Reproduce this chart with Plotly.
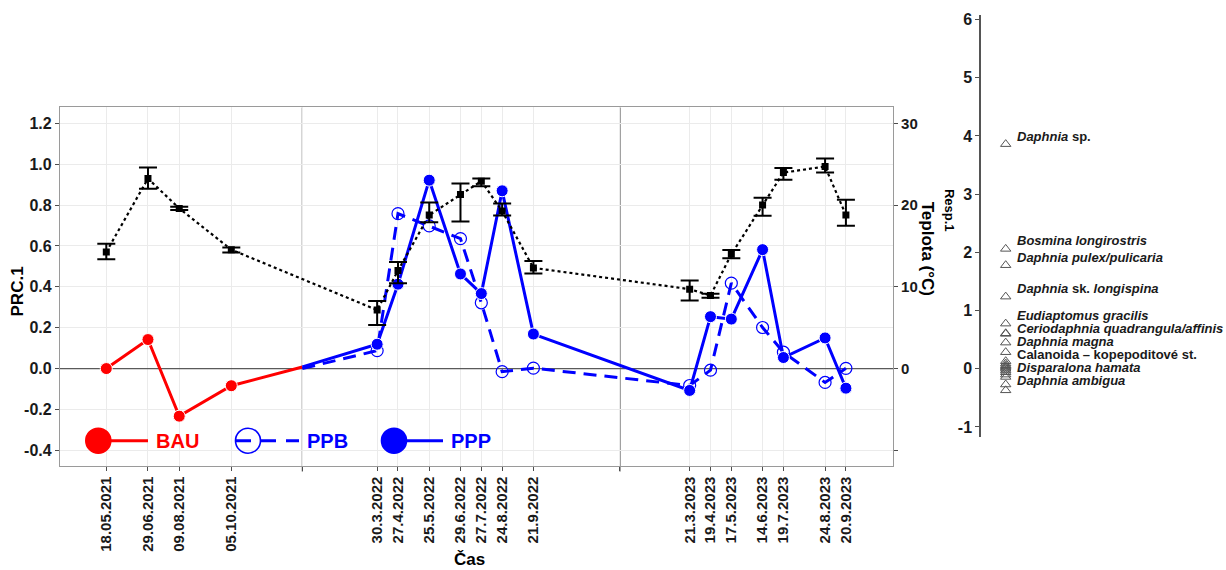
import plotly.graph_objects as go

W, H = 1226, 570
FONT = "Liberation Sans, Arial, sans-serif"

# ---- sampling dates and their positions on the time axis ----
dates_2021 = ["18.05.2021", "29.06.2021", "09.08.2021", "05.10.2021"]
dates_2022 = ["30.3.2022", "27.4.2022", "25.5.2022", "29.6.2022",
              "27.7.2022", "24.8.2022", "21.9.2022"]
dates_2023 = ["21.3.2023", "19.4.2023", "17.5.2023", "14.6.2023",
              "19.7.2023", "24.8.2023", "20.9.2023"]
t_2021 = [0, 4, 7, 12]
t_2022 = [26, 28, 31, 34, 36, 38, 41]
t_2023 = [56, 58, 60, 63, 65, 69, 71]
season_breaks = [18.82, 49.31]

# ---- PRC.1 scores per treatment ----
bau_2021 = [0.0, 0.142, -0.233, -0.084]
bau_end = 0.008
ppb_start = 0.0
ppb_2022 = [0.088, 0.758, 0.698, 0.636, 0.322, -0.015, 0.002]
ppb_2023 = [-0.083, -0.008, 0.418, 0.201, 0.080, -0.068, 0.001]
ppp_start = 0.008
ppp_2022 = [0.119, 0.413, 0.922, 0.463, 0.367, 0.870, 0.169]
ppp_2023 = [-0.107, 0.254, 0.242, 0.582, 0.054, 0.150, -0.096]

# ---- water temperature (mean with upper / lower bounds) ----
temp_mean = [14.27, 23.25, 19.60, 14.55,
             7.16, 11.99, 18.78, 21.30, 22.93, 19.27, 12.32,
             9.72, 8.94, 13.98, 20.00, 23.98, 24.72, 18.78]
temp_hi = [15.28, 24.60, 19.80, 14.80,
           8.26, 13.05, 20.33, 22.65, 23.26, 20.20, 13.17,
           10.77, 9.15, 14.51, 20.89, 24.55, 25.70, 20.65]
temp_lo = [13.38, 22.00, 19.40, 14.20,
           5.33, 10.45, 17.89, 18.00, 22.32, 18.74, 11.62,
           8.33, 8.66, 13.50, 18.70, 23.09, 23.98, 17.48]

# ---- species weights (Resp.1) ----
species = ["<i>Daphnia</i> sp.", "<i>Bosmina longirostris</i>",
           "<i>Daphnia pulex/pulicaria</i>", "<i>Daphnia</i> sk. <i>longispina</i>",
           "<i>Eudiaptomus gracilis</i>", "<i>Ceriodaphnia quadrangula/affinis</i>",
           "<i>Daphnia magna</i>", "Calanoida – kopepoditové st.",
           "<i>Disparalona hamata</i>", "<i>Daphnia ambigua</i>",
           "", "", "", "", "", "", "", "", "", "", ""]
species_score = [3.86, 2.06, 1.78, 1.24, 0.776, 0.60, 0.45, 0.285, 0.02, -0.27,
                 0.61, 0.13, 0.09, 0.06, 0.04, 0.0, -0.03, -0.06, -0.10, -0.14, -0.37]

prc_ticks = [-0.4, -0.2, 0.0, 0.2, 0.4, 0.6, 0.8, 1.0, 1.2]
temp_ticks = [-10, 0, 10, 20, 30]
resp_ticks = [-1, 0, 1, 2, 3, 4, 5, 6]

RED = "#ff0000"
BLUE = "#0000ff"
GRID = "#ebebeb"
BORDER = "#9a9a9a"
TICKC = "#4d4d4d"

t_all = t_2021 + t_2022 + t_2023
dates_all = dates_2021 + dates_2022 + dates_2023

# main panel pixel frame -> axis ranges
PX_L, PX_R, PX_T, PX_B = 60, 893, 105, 465
x_lo, x_hi = -4.445, 75.52
y_lo, y_hi = -0.4747, 1.278
TEMP_SCALE = 25.0

fig = go.Figure()

# PRC lines
fig.add_trace(go.Scatter(
    x=t_2021 + [season_breaks[0]], y=bau_2021 + [bau_end],
    mode="lines+markers", line=dict(color=RED, width=3),
    marker=dict(color=RED, opacity=1, size=[12] * len(bau_2021) + [0]),
    xaxis="x", yaxis="y"))
fig.add_trace(go.Scatter(
    x=[season_breaks[0]] + t_2022 + t_2023, y=[ppb_start] + ppb_2022 + ppb_2023,
    mode="lines+markers", line=dict(color=BLUE, width=3, dash="13px,8px"),
    marker=dict(color=BLUE, opacity=1,
                size=[0] + [12] * (len(t_2022) + len(t_2023)),
                symbol="circle-open", line=dict(color=BLUE, width=1.2)),
    xaxis="x", yaxis="y"))
fig.add_trace(go.Scatter(
    x=[season_breaks[0]] + t_2022 + t_2023, y=[ppp_start] + ppp_2022 + ppp_2023,
    mode="lines+markers", line=dict(color=BLUE, width=3),
    marker=dict(color=BLUE, opacity=1,
                size=[0] + [12] * (len(t_2022) + len(t_2023))),
    xaxis="x", yaxis="y"))

# temperature on the secondary axis
fig.add_trace(go.Scatter(
    x=t_all, y=temp_mean, mode="lines+markers",
    line=dict(color="black", width=2.2, dash="dot"),
    marker=dict(color="black", size=7, symbol="square", opacity=1),
    error_y=dict(type="data", symmetric=False,
                 array=[h - m for h, m in zip(temp_hi, temp_mean)],
                 arrayminus=[m - l for m, l in zip(temp_mean, temp_lo)],
                 color="black", thickness=2, width=9),
    xaxis="x", yaxis="y2"))

# species weights
fig.add_trace(go.Scatter(
    x=[24.7] * len(species_score), y=species_score, mode="markers",
    marker=dict(symbol="triangle-up-open", size=9, color="#555555", opacity=1,
                line=dict(width=1, color="#555555")),
    xaxis="x3", yaxis="y3"))

# legend drawn inside the panel (pixel coordinates)
LEG_Y = 440
legend_items = [
    ("BAU", RED, 98.3, (110, 148), None, "circle"),
    ("PPB", BLUE, 248, (236, 299), "15px,10px", "circle-open"),
    ("PPP", BLUE, 394, (407, 443), None, "circle"),
]
annotations = []
for name, col, cx, (l0, l1), dash, sym in legend_items:
    fig.add_trace(go.Scatter(
        x=[l0, l1], y=[LEG_Y, LEG_Y], mode="lines",
        line=dict(color=col, width=3, dash=dash or "solid"),
        xaxis="x4", yaxis="y4"))
    fig.add_trace(go.Scatter(
        x=[cx], y=[LEG_Y], mode="markers",
        marker=dict(symbol=sym, size=25, color=col, opacity=1,
                    line=dict(color=col, width=1.6)),
        xaxis="x4", yaxis="y4"))
    annotations.append(dict(
        x=l1 + 6, y=LEG_Y, xref="x4", yref="y4", text=name, showarrow=False,
        xanchor="left", yanchor="middle",
        font=dict(family=FONT, size=20, color=col, weight="bold")))

# species labels, spread downward so that they do not overlap
LIFT, GAP = 0.137, 0.222
prev = None
for name, s in sorted([(n, v) for n, v in zip(species, species_score) if n],
                      key=lambda p: -p[1]):
    pos = s + LIFT
    if prev is not None and pos > prev - GAP:
        pos = prev - GAP
    prev = pos
    annotations.append(dict(
        x=35.0, y=pos, xref="x3", yref="y3", text=f"<b>{name}</b>",
        showarrow=False, xanchor="left", yanchor="middle", borderpad=0,
        font=dict(family=FONT, size=13, color="#1a1a1a")))


def paper_x(px):
    return px / W


def paper_y(py):
    return 1 - py / H


title_font = dict(family=FONT, size=17, color="black", weight="bold")
titles = [
    ("PRC.1", 17, 290, -90, title_font),
    ("Čas", 469, 559, 0, title_font),
    ("Teplota (°C)", 927, 247, 90, title_font),
    ("Resp.1", 949, 208, 90, dict(family=FONT, size=13, color="black", weight="bold")),
]
for text, tx, ty, ang, fnt in titles:
    annotations.append(dict(
        x=paper_x(tx), y=paper_y(ty), xref="paper", yref="paper", text=text,
        textangle=ang, showarrow=False, xanchor="center", yanchor="middle",
        borderpad=0, font=fnt))

shapes = [
    dict(type="line", xref="x", yref="y", x0=x_lo, x1=x_hi, y0=0, y1=0,
         line=dict(color="#5a5a5a", width=1.2), layer="between"),
]
for b in season_breaks:
    shapes.append(dict(type="line", xref="x", yref="paper", x0=b, x1=b,
                       y0=paper_y(PX_B + 6), y1=paper_y(PX_T),
                       line=dict(color="#5a5a5a", width=1.2), layer="between"))

tick_font = dict(family=FONT, size=16, color="#1a1a1a", weight="bold")

fig.update_layout(
    width=W, height=H, margin=dict(l=0, r=0, t=0, b=0),
    paper_bgcolor="white", plot_bgcolor="rgba(0,0,0,0)", showlegend=False,
    annotations=annotations, shapes=shapes,
    xaxis=dict(domain=[paper_x(PX_L), paper_x(PX_R)], range=[x_lo, x_hi],
               tickmode="array", tickvals=t_all + season_breaks,
               ticktext=dates_all + ["", ""], tickangle=-90,
               tickfont=dict(family=FONT, size=15, color="#1a1a1a", weight="bold"),
               ticks="outside", ticklen=4, tickcolor=TICKC,
               showgrid=True, gridcolor=GRID, gridwidth=1, zeroline=False,
               showline=True, linecolor=BORDER, linewidth=1.2, mirror=True,
               anchor="y"),
    yaxis=dict(domain=[paper_y(PX_B), paper_y(PX_T)], range=[y_lo, y_hi],
               tickmode="array", tickvals=prc_ticks,
               ticktext=[f"{v:.1f}" for v in prc_ticks],
               tickfont=tick_font, ticks="outside", ticklen=4, tickcolor=TICKC,
               showgrid=True, gridcolor=GRID, gridwidth=1, zeroline=False,
               showline=True, linecolor=BORDER, linewidth=1.2, mirror=True,
               anchor="x"),
    yaxis2=dict(overlaying="y", side="right", anchor="x",
                range=[y_lo * TEMP_SCALE, y_hi * TEMP_SCALE],
                tickmode="array", tickvals=temp_ticks,
                ticktext=["" if v < 0 else str(v) for v in temp_ticks],
                tickfont=dict(family=FONT, size=15, color="#1a1a1a", weight="bold"),
                ticks="outside", ticklen=4, tickcolor=TICKC,
                showgrid=False, zeroline=False,
                showline=True, linecolor=BORDER, linewidth=1.2),
    xaxis3=dict(domain=[paper_x(981), 1.0], range=[0, 245], visible=False,
                anchor="y3"),
    yaxis3=dict(domain=[paper_y(436.7), paper_y(11.7)], range=[-1.179, 6.085],
                anchor="x3", side="left", tickmode="array", tickvals=resp_ticks,
                ticktext=[str(v) for v in resp_ticks], tickfont=tick_font,
                ticks="outside", ticklen=4, tickcolor=TICKC,
                showgrid=False, zeroline=False,
                showline=True, linecolor="#555555", linewidth=1.5),
    xaxis4=dict(domain=[0, 1], range=[0, W], visible=False, anchor="y4",
                fixedrange=True),
    yaxis4=dict(domain=[0, 1], range=[H, 0], visible=False, anchor="x4",
                fixedrange=True),
)

fig.write_html("out.html")
